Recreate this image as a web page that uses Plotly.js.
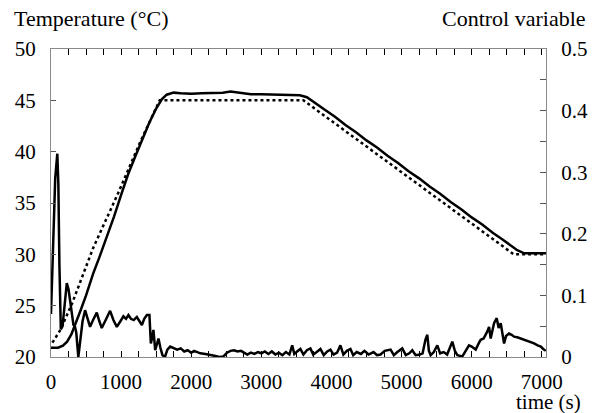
<!DOCTYPE html>
<html>
<head>
<meta charset="utf-8">
<title>Temperature and control variable</title>
<script src="https://cdn.plot.ly/plotly-3.0.1.min.js"></script>
<style>
body { margin: 0; padding: 0; background: #ffffff; }
#graph svg text { font-family: "Liberation Serif", "Times New Roman", serif !important; }
</style>
</head>
<body>
<div id="graph" style="width:600px;height:413px"></div>
<script>
// Setpoint temperature (dotted line), °C
const setTime = [20, 130, 300, 600, 960, 1270, 1550, 3600, 6600, 7060];
const setTemp = [21.4, 22.6, 25.2, 30.6, 36.0, 40.9, 45.0, 45.0, 30.0, 30.0];

// Measured temperature (solid line), °C
const measTime = [0, 100, 170, 230, 290, 350, 420, 500, 600, 700, 800, 900, 1000, 1100, 1200, 1300, 1400, 1500, 1580, 1650, 1750, 1850, 2000, 2150, 2300, 2450, 2560, 2700, 2850, 3000, 3200, 3400, 3550, 3650, 3750, 3900, 4050, 4200, 4350, 4500, 4650, 4800, 4950, 5100, 5250, 5400, 5550, 5700, 5850, 6000, 6150, 6300, 6450, 6550, 6650, 6750, 6900, 7060];
const measTemp = [20.9, 20.9, 21.1, 21.5, 22.2, 23.2, 24.5, 26.0, 28.1, 29.9, 31.7, 33.7, 35.8, 37.8, 39.5, 41.2, 42.8, 44.2, 45.1, 45.55, 45.75, 45.7, 45.65, 45.7, 45.7, 45.75, 45.85, 45.7, 45.6, 45.6, 45.55, 45.55, 45.5, 45.3, 44.8, 44.1, 43.4, 42.6, 41.9, 41.1, 40.4, 39.6, 38.9, 38.1, 37.4, 36.6, 35.9, 35.1, 34.4, 33.6, 32.9, 32.1, 31.4, 30.9, 30.4, 30.1, 30.1, 30.1];

// Control variable (right axis)
const ctrlTime = [0, 25, 60, 90, 105, 120, 140, 165, 195, 225, 250, 275, 300, 320, 340, 360, 390, 420, 450, 486, 520, 557, 600, 653, 690, 724, 780, 843, 890, 939, 990, 1033, 1070, 1104, 1140, 1180, 1224, 1260, 1296, 1330, 1367, 1404, 1424, 1440, 1461, 1486, 1510, 1533, 1560, 1590, 1625, 1660, 1700, 1750, 1800, 1850, 1900, 1950, 2000, 2040, 2090, 2130, 2200, 2270, 2330, 2400, 2460, 2510, 2560, 2610, 2660, 2710, 2760, 2800, 2850, 2900, 2950, 3000, 3050, 3100, 3150, 3200, 3250, 3300, 3350, 3400, 3440, 3470, 3510, 3557, 3600, 3650, 3700, 3740, 3790, 3843, 3890, 3940, 3986, 4030, 4080, 4128, 4170, 4220, 4271, 4310, 4360, 4420, 4470, 4530, 4600, 4650, 4700, 4760, 4843, 4890, 4940, 5010, 5060, 5110, 5153, 5200, 5260, 5300, 5340, 5367, 5390, 5415, 5460, 5510, 5550, 5600, 5650, 5690, 5724, 5760, 5795, 5867, 5910, 5962, 6000, 6057, 6100, 6129, 6170, 6200, 6225, 6248, 6271, 6300, 6319, 6357, 6385, 6414, 6440, 6462, 6490, 6533, 6570, 6605, 6650, 6700, 6748, 6800, 6850, 6890, 6940, 6986, 7020, 7057];
const ctrlVal = [0.07, 0.17, 0.29, 0.33, 0.28, 0.15, 0.045, 0.05, 0.09, 0.12, 0.11, 0.088, 0.07, 0.052, 0.05, 0.04, 0.0, 0.03, 0.058, 0.076, 0.062, 0.049, 0.06, 0.072, 0.058, 0.047, 0.06, 0.075, 0.06, 0.049, 0.058, 0.066, 0.062, 0.068, 0.062, 0.06, 0.065, 0.058, 0.052, 0.062, 0.068, 0.068, 0.022, 0.03, 0.044, 0.011, 0.02, 0.03, 0.015, 0.003, 0.0, 0.012, 0.017, 0.014, 0.012, 0.014, 0.009, 0.011, 0.007, 0.010, 0.008, 0.006, 0.005, 0.004, 0.002, 0.0, 0.001, 0.007, 0.010, 0.011, 0.009, 0.010, 0.007, 0.004, 0.007, 0.005, 0.008, 0.006, 0.009, 0.005, 0.009, 0.004, 0.007, 0.003, 0.008, 0.004, 0.019, 0.005, 0.009, 0.013, 0.004, 0.011, 0.014, 0.004, 0.008, 0.013, 0.003, 0.009, 0.012, 0.004, 0.007, 0.019, 0.004, 0.010, 0.013, 0.003, 0.008, 0.005, 0.010, 0.004, 0.008, 0.003, 0.004, 0.010, 0.012, 0.003, 0.008, 0.014, 0.003, 0.006, 0.011, 0.003, 0.004, 0.006, 0.028, 0.036, 0.01, 0.003, 0.008, 0.019, 0.006, 0.008, 0.004, 0.015, 0.025, 0.01, 0.003, 0.001, 0.01, 0.019, 0.017, 0.012, 0.022, 0.028, 0.03, 0.036, 0.042, 0.049, 0.03, 0.045, 0.055, 0.063, 0.047, 0.055, 0.04, 0.022, 0.034, 0.038, 0.036, 0.033, 0.032, 0.030, 0.028, 0.026, 0.024, 0.022, 0.019, 0.017, 0.013, 0.010];

const timeTicks = [0, 1000, 2000, 3000, 4000, 5000, 6000, 7000];
const tempTicks = [20, 25, 30, 35, 40, 45, 50];
const ctrlTicks = [0, 0.1, 0.2, 0.3, 0.4, 0.5];
const ctrlTickText = ['0', '0.1', '0.2', '0.3', '0.4', '0.5'];

const SERIF = '"Liberation Serif", "Times New Roman", serif';
const GREY = '#8a8a8a';
const tickFont = {family: SERIF, size: 21, color: '#000000'};

Plotly.newPlot('graph', [
  {x: setTime, y: setTemp, type: 'scatter', mode: 'lines', line: {color: '#000000', width: 2.5, dash: 'dot'}},
  {x: measTime, y: measTemp, type: 'scatter', mode: 'lines', line: {color: '#000000', width: 2.5}},
  {x: ctrlTime, y: ctrlVal, type: 'scatter', mode: 'lines', yaxis: 'y2', line: {color: '#000000', width: 2.5}}
], {
  width: 600, height: 413,
  margin: {l: 51, r: 54, t: 49, b: 56},
  showlegend: false,
  paper_bgcolor: '#ffffff', plot_bgcolor: '#ffffff',
  font: tickFont,
  xaxis: {
    range: [0, 7060], tickvals: timeTicks, ticks: 'inside', ticklen: 6, tickcolor: '#000000',
    minor: {dtick: 250, ticks: 'inside', ticklen: 6, tickcolor: '#000000'},
    showline: true, linecolor: GREY, mirror: 'allticks', showgrid: false, zeroline: false,
    ticklabelstandoff: 6, tickfont: tickFont
  },
  yaxis: {
    range: [20, 50], tickvals: tempTicks, ticks: 'inside', ticklen: 5, tickcolor: '#555555',
    showline: true, linecolor: GREY, showgrid: false, zeroline: false,
    ticklabelstandoff: 10, tickfont: tickFont
  },
  yaxis2: {
    range: [0, 0.5], overlaying: 'y', side: 'right', tickvals: ctrlTicks, ticktext: ctrlTickText,
    ticks: 'inside', ticklen: 6, tickcolor: '#555555',
    minor: {dtick: 0.05, ticks: 'inside', ticklen: 6, tickcolor: '#555555'},
    showline: true, linecolor: GREY, showgrid: false, zeroline: false,
    ticklabelstandoff: 10, tickfont: tickFont
  },
  annotations: [
    {text: 'Temperature (°C)', xref: 'paper', yref: 'paper', x: -0.0788, y: 1.1006, xanchor: 'left', yanchor: 'middle', showarrow: false, font: {family: SERIF, size: 22, color: '#000000'}},
    {text: 'Control variable', xref: 'paper', yref: 'paper', x: 1.0848, y: 1.1006, xanchor: 'right', yanchor: 'middle', showarrow: false, font: {family: SERIF, size: 22, color: '#000000'}},
    {text: 'time (s)', xref: 'paper', yref: 'paper', x: 1.0747, y: -0.145, xanchor: 'right', yanchor: 'middle', showarrow: false, font: {family: SERIF, size: 21, color: '#000000'}}
  ]
}, {staticPlot: true, displayModeBar: false});
</script>
</body>
</html>
